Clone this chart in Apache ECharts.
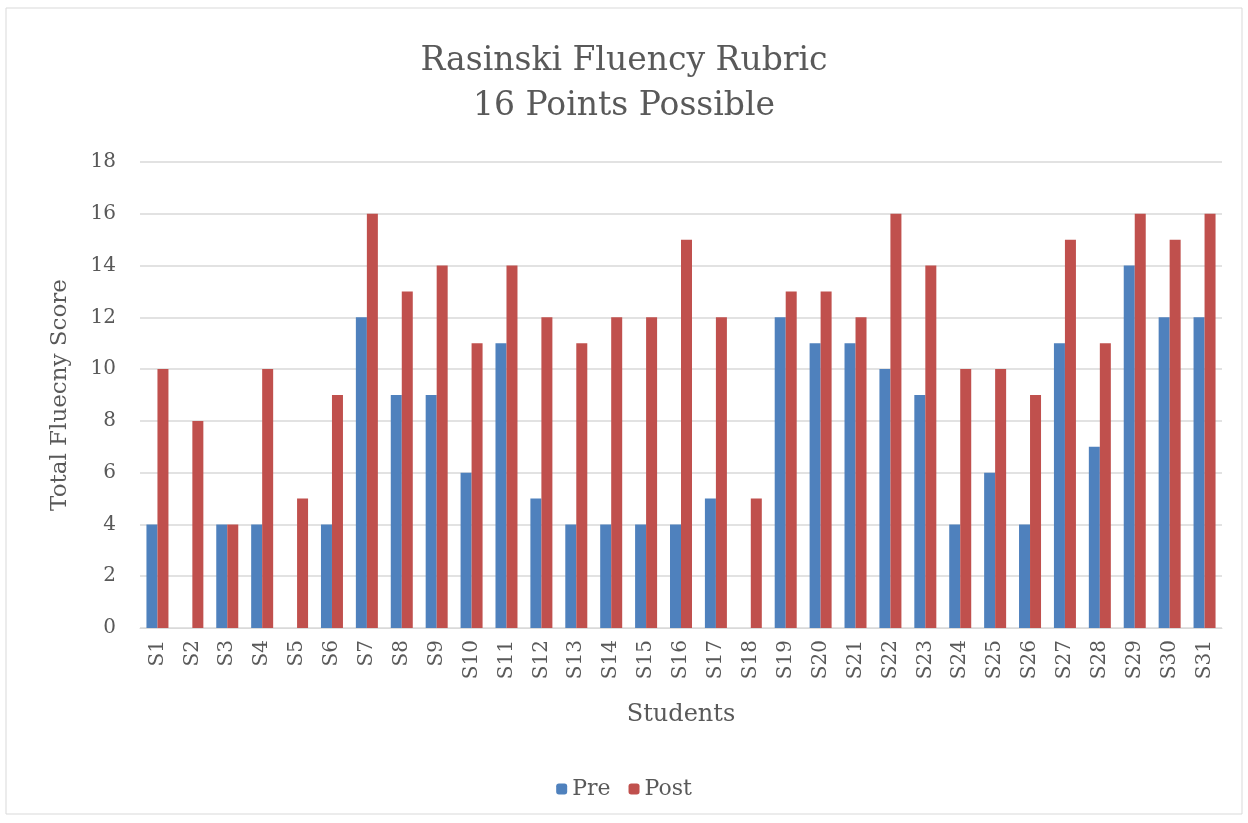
<!DOCTYPE html>
<html><head><meta charset="utf-8">
<script src="https://cdn.jsdelivr.net/npm/echarts@6/dist/echarts.min.js"></script>
<style>html,body{margin:0;padding:0;background:#fff}#c{width:1248px;height:823px}</style>
</head><body><div id="c"></div>
<script>
const categories = ['S1','S2','S3','S4','S5','S6','S7','S8','S9','S10','S11','S12','S13','S14','S15','S16','S17','S18','S19','S20','S21','S22','S23','S24','S25','S26','S27','S28','S29','S30','S31'];
const preScores = [4,0,4,4,0,4,12,9,9,6,11,5,4,4,4,4,5,0,12,11,11,10,9,4,6,4,11,7,14,12,12];
const postScores = [10,8,4,10,5,9,16,13,14,11,14,12,11,12,12,15,12,5,13,13,12,16,14,10,10,9,15,11,16,15,16];
const yTicks = [0,2,4,6,8,10,12,14,16,18];

const font = 'DejaVu Serif';
const chart = echarts.init(document.getElementById('c'));
chart.setOption({
  animation: false,
  backgroundColor: '#fff',
  graphic: [{type:'rect', shape:{x:6,y:8,width:1236,height:806}, style:{fill:'none', stroke:'#d9d9d9', lineWidth:1}}],
  title: {
    text: 'Rasinski Fluency Rubric\n16 Points Possible',
    left: 'center', top: 34,
    textStyle: {fontFamily: font, fontSize: 33, fontWeight: 'normal', color: '#595959', lineHeight: 45}
  },
  legend: {
    bottom: 18, left: 'center', itemWidth: 11, itemHeight: 11, itemGap: 18,
    textStyle: {fontFamily: font, fontSize: 22, color: '#595959'},
    data: ['Pre','Post']
  },
  grid: {left: 140, right: 26, top: 162, bottom: 195, containLabel: false},
  xAxis: {
    type: 'category', data: categories,
    name: 'Students', nameLocation: 'middle', nameGap: 75,
    nameTextStyle: {fontFamily: font, fontSize: 24, color: '#595959'},
    axisLine: {lineStyle: {color: '#d9d9d9', width: 1}},
    axisTick: {show: false},
    axisLabel: {rotate: 90, fontFamily: font, fontSize: 20, color: '#595959', margin: 12}
  },
  yAxis: {
    type: 'value', min: 0, max: 18, interval: 2,
    name: 'Total Fluecny Score', nameLocation: 'middle', nameGap: 68,
    nameTextStyle: {fontFamily: font, fontSize: 23, color: '#595959'},
    axisLine: {show: false}, axisTick: {show: false},
    axisLabel: {fontFamily: font, fontSize: 20, color: '#595959', margin: 24,
      formatter: v => yTicks.includes(v) ? String(v) : ''},
    splitLine: {lineStyle: {color: '#d9d9d9', width: 1.5}}
  },
  series: [
    {name: 'Pre', type: 'bar', data: preScores, barWidth: 11, barGap: '0%', itemStyle: {color: '#4F81BD'}},
    {name: 'Post', type: 'bar', data: postScores, barWidth: 11, barGap: '0%', itemStyle: {color: '#C0504D'}}
  ]
});
</script></body></html>
